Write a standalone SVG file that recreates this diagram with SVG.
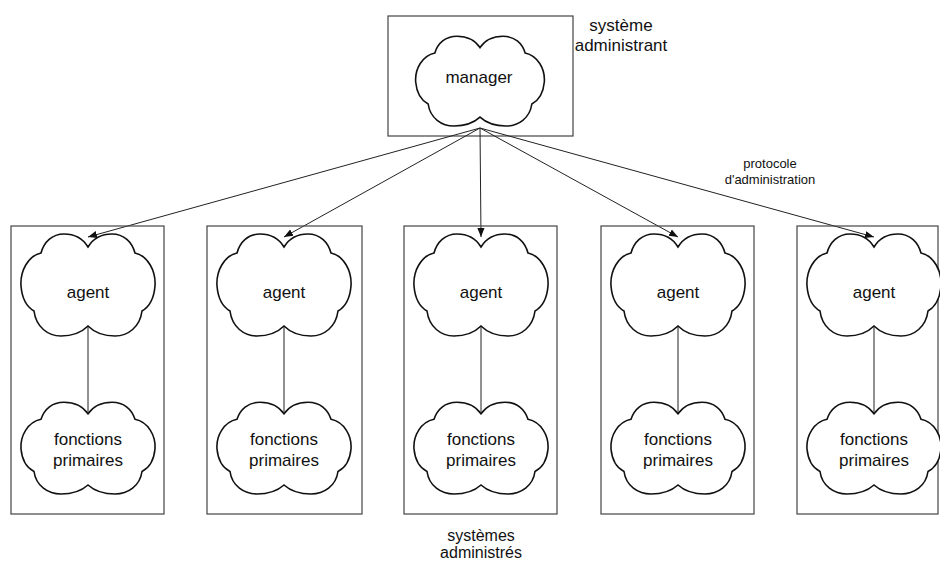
<svg xmlns="http://www.w3.org/2000/svg" width="940" height="561" viewBox="0 0 940 561">
<style>
.box{fill:none;stroke:#444;stroke-width:1.2}
.cloud{fill:#fff;stroke:#111;stroke-width:1.6}
.t{font-family:"Liberation Sans",Arial,sans-serif;font-size:17px;fill:#111;text-anchor:middle}
.s{font-size:13px}
.c{stroke:#222;stroke-width:1;fill:none}
</style>
<defs>
<path id="cl" vector-effect="non-scaling-stroke" d="M0,-39 C6,-49 15,-52 24,-52 C36,-52 44,-44 47,-33 C60,-30 68,-15 67,0 C66,12 61,21 54,25 C52,41 40,50 27,50 C15,50 6,46 0,40 C-6,46 -15,50 -27,50 C-40,50 -52,41 -54,25 C-61,21 -66,12 -67,0 C-68,-15 -60,-30 -47,-33 C-44,-44 -36,-52 -24,-52 C-15,-52 -6,-49 0,-39 Z"/>
<marker id="ah" viewBox="0 0 10 10" refX="10" refY="5" markerWidth="9" markerHeight="9" markerUnits="userSpaceOnUse" orient="auto">
<path d="M0,1 L10,5 L0,9 Z" fill="#111"/>
</marker>
</defs>

<g id="manager-system">
<rect class="box" x="388" y="16" width="185" height="120"/>
<use href="#cl" class="cloud" transform="translate(480,82) scale(0.96,0.88)"/>
<text class="t" x="479" y="83">manager</text>
</g>
<text class="t" x="621" y="31">système</text>
<text class="t" x="621" y="51">administrant</text>
<text class="t s" x="770" y="168">protocole</text>
<text class="t s" x="770" y="184">d'administration</text>

<g id="connectors">
<line class="c" x1="480" y1="128" x2="88" y2="237" marker-end="url(#ah)"/>
<line class="c" x1="480" y1="128" x2="284" y2="237" marker-end="url(#ah)"/>
<line class="c" x1="480" y1="128" x2="481" y2="237" marker-end="url(#ah)"/>
<line class="c" x1="480" y1="128" x2="678" y2="237" marker-end="url(#ah)"/>
<line class="c" x1="480" y1="128" x2="874" y2="237" marker-end="url(#ah)"/>
<line class="c" x1="88" y1="326" x2="88" y2="414"/>
<line class="c" x1="284" y1="326" x2="284" y2="414"/>
<line class="c" x1="481" y1="326" x2="481" y2="414"/>
<line class="c" x1="678" y1="326" x2="678" y2="414"/>
<line class="c" x1="874" y1="326" x2="874" y2="414"/>
</g>

<g id="system1">
<rect class="box" x="11" y="226" width="153" height="288"/>
<use href="#cl" class="cloud" transform="translate(88,286)"/>
<text class="t" x="88" y="298">agent</text>
<use href="#cl" class="cloud" transform="translate(88,449) scale(1,0.9)"/>
<text class="t" x="88" y="445">fonctions</text>
<text class="t" x="88" y="466">primaires</text>
</g>
<g id="system2">
<rect class="box" x="207" y="226" width="155" height="288"/>
<use href="#cl" class="cloud" transform="translate(284,286)"/>
<text class="t" x="284" y="298">agent</text>
<use href="#cl" class="cloud" transform="translate(284,449) scale(1,0.9)"/>
<text class="t" x="284" y="445">fonctions</text>
<text class="t" x="284" y="466">primaires</text>
</g>
<g id="system3">
<rect class="box" x="404" y="226" width="153" height="288"/>
<use href="#cl" class="cloud" transform="translate(481,286)"/>
<text class="t" x="481" y="298">agent</text>
<use href="#cl" class="cloud" transform="translate(481,449) scale(1,0.9)"/>
<text class="t" x="481" y="445">fonctions</text>
<text class="t" x="481" y="466">primaires</text>
</g>
<g id="system4">
<rect class="box" x="601" y="226" width="153" height="288"/>
<use href="#cl" class="cloud" transform="translate(678,286)"/>
<text class="t" x="678" y="298">agent</text>
<use href="#cl" class="cloud" transform="translate(678,449) scale(1,0.9)"/>
<text class="t" x="678" y="445">fonctions</text>
<text class="t" x="678" y="466">primaires</text>
</g>
<g id="system5">
<rect class="box" x="797" y="226" width="141" height="288"/>
<use href="#cl" class="cloud" transform="translate(874,286)"/>
<text class="t" x="874" y="298">agent</text>
<use href="#cl" class="cloud" transform="translate(874,449) scale(1,0.9)"/>
<text class="t" x="874" y="445">fonctions</text>
<text class="t" x="874" y="466">primaires</text>
</g>
<text class="t" x="481" y="541" style="font-size:16px">systèmes</text>
<text class="t" x="481" y="558" style="font-size:16px">administrés</text>
</svg>
